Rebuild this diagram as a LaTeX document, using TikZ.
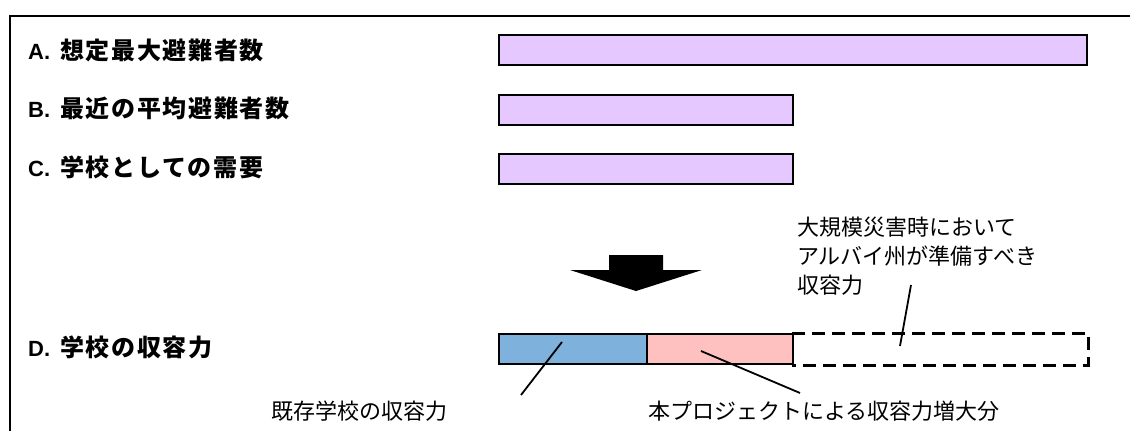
\documentclass[tikz,border=0pt]{standalone}
\usepackage{fontspec}
\setmainfont{Noto Sans CJK JP}
\newfontfamily\cjklabel[LetterSpace=7]{Noto Sans CJK JP}
\newfontfamily\latinlabel{Liberation Sans}
\usepackage{tikz}

\definecolor{demand}{RGB}{229,200,255}
\definecolor{existing}{RGB}{126,178,220}
\definecolor{added}{RGB}{255,192,192}

\newcommand{\lettered}[2]{{\latinlabel\bfseries\fontsize{22}{26}\selectfont #1.}\hspace{10pt}#2}

\tikzset{
  label/.style={anchor=west, inner sep=0pt, font=\cjklabel\bfseries\fontsize{24}{28}\selectfont},
  note/.style={inner sep=0pt, font=\fontsize{22}{29}\selectfont, align=left},
  bar/.style={draw, line width=2pt, anchor=north west, inner sep=0pt, minimum height=30pt},
  leader/.style={line width=1.8pt}
}

\begin{document}
\begin{tikzpicture}[x=1pt, y=-1pt]
  \useasboundingbox (0,0) rectangle (1130,431);
  % Frame
  \draw[line width=2pt] (10,431) -- (10,16) -- (1130,16);

  % Labels
  \node[label] (labA) at (28,50) {\lettered{A}{想定最大避難者数}};
  \node[label] (labB) at (28,108) {\lettered{B}{最近の平均避難者数}};
  \node[label] (labC) at (28,167) {\lettered{C}{学校としての需要}};
  \node[label] (labD) at (28,347) {\lettered{D}{学校の収容力}};

  % Bars
  \node[bar, fill=demand, minimum width=588pt] (barA) at (498,34) {};
  \node[bar, fill=demand, minimum width=294pt] (barB) at (498,94) {};
  \node[bar, fill=demand, minimum width=294pt] (barC) at (498,153) {};
  \node[bar, fill=existing, minimum width=148pt] (barD1) at (498,333) {};
  \node[bar, fill=added, minimum width=146pt] (barD2) at (646,333) {};
  \node[bar, draw=none, minimum width=294pt] (barD3) at (792,333) {};
  \draw[line width=3pt, dash pattern=on 13pt off 7pt]
    (barD3.north west) -- (barD3.north east) -- (barD3.south east) -- (barD3.south west);

  % Arrow
  \fill (609,255) -- (663,255) -- (663,270) -- (702,270) -- (636,291)
    -- (570,270) -- (609,270) -- cycle;

  % Notes
  \node[note, anchor=north west] (need) at (797,217) {大規模災害時において\\アルバイ州が準備すべき\\収容力};
  \node[note] (exist) at (359,411) {既存学校の収容力};
  \node[note] (increase) at (824,411) {本プロジェクトによる収容力増大分};

  % Leaders
  \coordinate (pE) at (562,342);
  \coordinate (qE) at (521,395);
  \coordinate (pI) at (701,351);
  \coordinate (qI) at (800,393);
  \coordinate (pN) at (900,346);
  \coordinate (qN) at (911,285);
  \draw[leader] (pE) -- (qE);
  \draw[leader] (pI) -- (qI);
  \draw[leader] (pN) -- (qN);
\end{tikzpicture}
\end{document}
